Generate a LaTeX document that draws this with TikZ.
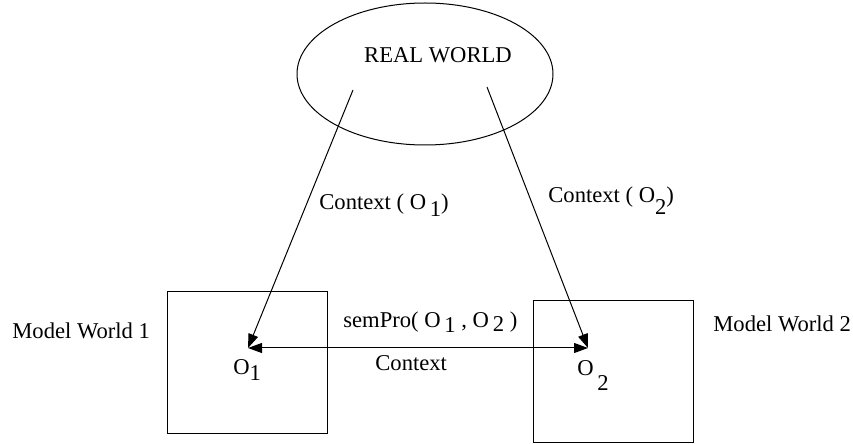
\documentclass[tikz,border=0pt]{standalone}
\usepackage{fontspec}
\setmainfont{Liberation Serif}
\usepackage{tikz}
\usetikzlibrary{arrows.meta, positioning, shapes.geometric}

\newcommand{\low}[2]{\raisebox{-#1}{#2}}

\begin{document}
\begin{tikzpicture}[
  x=0.5pt, y=-0.5pt,
  every node/.style={font=\fontsize{11.3}{13.5}\selectfont, inner sep=0pt},
  world/.style={draw, line width=0.5pt, minimum width=80pt, minimum height=70.5pt},
  label/.style={anchor=base west},
  arrow/.style={-{Triangle[length=7pt, width=5pt]}, line width=0.5pt}
]
\useasboundingbox (0,0) rectangle (853,444);

\node[draw, ellipse, line width=0.5pt, minimum width=128pt, minimum height=71pt] (real) at (425,74) {};
\node[anchor=base] (realtext) at (438,63) {REAL WORLD};

\node[world] (mw1) at (247.5,362.5) {};
\node[world] (mw2) at (613,371.5) {};

\node[label] (mw1text) at (12,338) {Model World 1};
\node[label] (mw2text) at (713,332) {Model World 2};

\coordinate (from1) at (353,90);
\coordinate (from2) at (487,87);
\coordinate (o1) at (248,348);
\coordinate (o2) at (588,348);

\node[label] (o1text) at (233,374) {O\low{3pt}{1}};
\node[label] (o2text) at (577,375) {O\,\low{8pt}{2}};

\node[label] (ctx1) at (319,210) {Context ( O\,\low{3.5pt}{1})};
\node[label] (ctx2) at (548,203) {Context ( O\low{6pt}{2})};
\node[label] (sem) at (343,328) {semPro( O\,\low{2.5pt}{1} , O\,\low{2pt}{2} )};
\node[label] (ctx) at (375,371) {Context};

\draw[arrow] (from1) -- (o1);
\draw[arrow] (from2) -- (o2);
\draw[arrow, {Triangle[length=7pt, width=5pt]}-{Triangle[length=7pt, width=5pt]}] (o1) -- (o2);

\end{tikzpicture}
\end{document}
